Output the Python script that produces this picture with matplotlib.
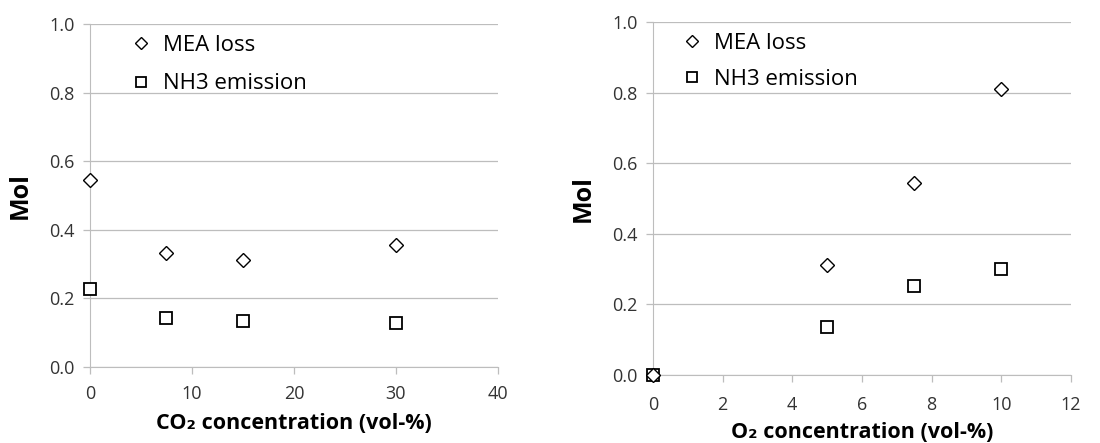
import matplotlib.pyplot as plt

plt.rcParams['font.family'] = ['Open Sans', 'DejaVu Sans']

# CO2 series
co2_x = [0, 7.5, 15, 30]
co2_mea = [0.545, 0.333, 0.313, 0.355]
co2_nh3 = [0.228, 0.143, 0.134, 0.128]

# O2 series
o2_x = [0, 5, 7.5, 10]
o2_mea = [0.0, 0.313, 0.545, 0.810]
o2_nh3 = [0.0, 0.135, 0.252, 0.300]

y_ticks = [0.0, 0.2, 0.4, 0.6, 0.8, 1.0]
grey = '#bdbdbd'

fig = plt.figure(figsize=(11, 4.43), dpi=100)
ax1 = fig.add_axes([0.0818, 0.1716, 0.3709, 0.7742])
ax2 = fig.add_axes([0.5936, 0.1535, 0.38, 0.7968])


def style(ax, x, mea, nh3, xlim, xticks, xlabel, xpad, lpad, leg_x, leg_sp):
    ax.plot(x, mea, linestyle='none', marker='D', markersize=7.5,
            markerfacecolor='white', markeredgecolor='black', markeredgewidth=1.0,
            label='MEA loss', zorder=4, clip_on=False)
    ax.plot(x, nh3, linestyle='none', marker='s', markersize=9,
            markerfacecolor='white', markeredgecolor='black', markeredgewidth=1.3,
            label='NH3 emission', zorder=3, clip_on=False)
    ax.set_xlim(*xlim)
    ax.set_ylim(0, 1.0)
    ax.set_xticks(xticks)
    ax.set_yticks(y_ticks)
    ax.set_yticklabels([f'{v:.1f}' for v in y_ticks])
    ax.grid(axis='y', color=grey, linewidth=0.9)
    ax.set_axisbelow(True)
    for s in ['top', 'right']:
        ax.spines[s].set_visible(False)
    for s in ['left', 'bottom']:
        ax.spines[s].set_color(grey)
    ax.tick_params(axis='both', colors=grey, labelcolor='#333333',
                   labelsize=13, length=5, width=0.9)
    ax.tick_params(axis='y', pad=6)
    ax.tick_params(axis='x', pad=xpad)
    ax.set_xlabel(xlabel, fontsize=15.5, fontweight='bold', labelpad=lpad)
    ax.set_ylabel('Mol', fontsize=18, fontweight='bold', labelpad=12)
    ax.legend(loc='upper left', frameon=False, fontsize=16, handletextpad=0.0,
              borderaxespad=0.0, bbox_to_anchor=(leg_x, 0.995),
              labelspacing=leg_sp, markerscale=0.85)


style(ax1, co2_x, co2_mea, co2_nh3, (0, 40), [0, 10, 20, 30, 40],
      'CO₂ concentration (vol-%)', 8, 7, 0.049, 0.8)
style(ax2, o2_x, o2_mea, o2_nh3, (0, 12), [0, 2, 4, 6, 8, 10, 12],
      'O₂ concentration (vol-%)', 10, 6, 0.019, 0.68)

fig.savefig('out.png', dpi=100)
